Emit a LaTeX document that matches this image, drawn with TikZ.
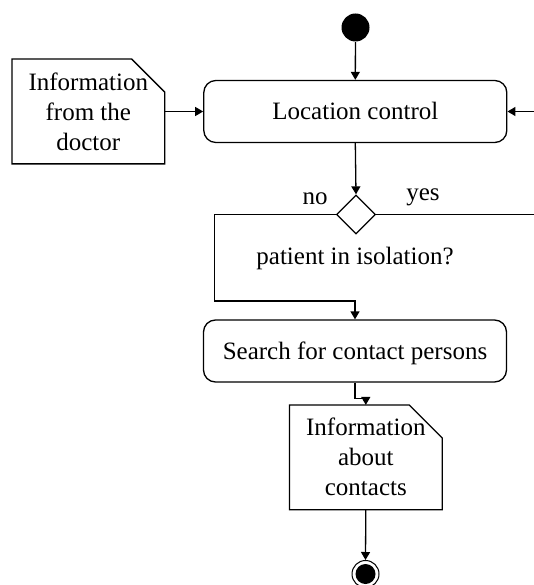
\documentclass[tikz,border=0pt]{standalone}
\usepackage{fontspec}
\setmainfont{Liberation Serif}
\usetikzlibrary{arrows.meta,shapes.geometric}
\newcommand\dogear[1]{\draw (#1.north west) -- ([xshift=-33pt]#1.north east) -- ([yshift=-33pt]#1.north east) -- (#1.south east) -- (#1.south west) -- cycle;}
\begin{document}
\begin{tikzpicture}[x=1pt,y=-1pt, line width=1.3pt,
  arr/.style={-{Triangle[length=8pt,width=9pt]}},
  txt/.style={font=\fontsize{25}{30}\selectfont},
  act/.style={txt, draw, rounded corners=12pt, minimum width=303pt, minimum height=62pt, inner sep=0pt, text height=20pt, text depth=3.5pt},
  notebox/.style={txt, minimum width=151.5pt, minimum height=103.5pt, inner sep=0pt, align=center},
  lbl/.style={txt, inner sep=0pt}]
\useasboundingbox (0,0) rectangle (533,585);

% nodes
\node[circle, fill, minimum size=28pt, inner sep=0pt] (start) at (355.5,27.5) {};
\node[act] (loc) at (355.3,111.5) {Location control};
\node[notebox] (doc) at (88.3,111.5) {Information\\from the\\doctor};
\dogear{doc}
\node[diamond, draw, aspect=1, minimum width=39pt, minimum height=39pt, inner sep=0pt] (dec) at (356,214.5) {};
\node[lbl] (no) at (315,199) {no};
\node[lbl] (yes) at (423,197) {yes};
\node[lbl] (q) at (355,258) {patient in isolation?};
\node[act] (search) at (355,351) {Search for contact persons};
\node[notebox] (cont) at (365.8,457.3) {Information\\about\\contacts};
\dogear{cont}
\node[circle, draw, line width=1pt, minimum size=27pt, inner sep=0pt] (end) at (365.5,574) {};
\fill (end.center) circle (10pt);

% coordinates
\coordinate (nocorner) at (214.3,301);
\coordinate (yescorner) at (548,214.5);

% connectors
\draw[arr] (start) -- (loc.north);
\draw[arr] (doc.east) -- (loc.west);
\draw[arr] (loc.south) -- (dec.north);
\draw[arr] (dec.west) -| (nocorner) -| (search.north);
\draw[arr] (dec.east) -- (yescorner) |- (loc.east);
\draw[arr] (search.south) -- ++(0,16) -| (cont.north);
\draw[arr] (cont.south) -- (end.north);
\end{tikzpicture}
\end{document}
